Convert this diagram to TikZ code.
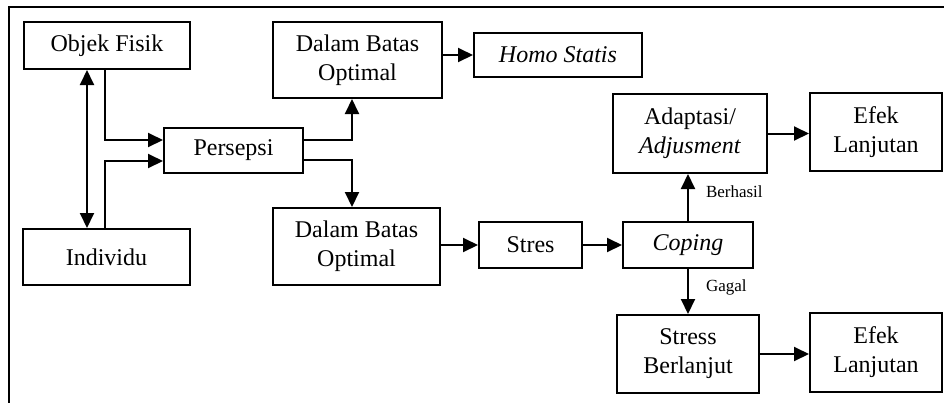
\documentclass[tikz,border=0pt]{standalone}
\usepackage{fontspec}
\setmainfont{Liberation Serif}
\usetikzlibrary{arrows.meta,calc,positioning}

\tikzset{
  box/.style={draw=black,line width=1pt,fill=white,align=center,inner sep=0pt,
    font=\fontsize{12}{14.5}\selectfont},
  arr/.style={line width=1pt,-{Triangle[length=7.5pt,width=7pt]}},
  arrboth/.style={line width=1pt,{Triangle[length=7.5pt,width=7pt]}-{Triangle[length=7.5pt,width=7pt]}},
  lbl/.style={font=\fontsize{8.5}{10}\selectfont,inner sep=0pt}
}

\begin{document}
\begin{tikzpicture}[x=0.5pt,y=-0.5pt]
\useasboundingbox (0,0) rectangle (944,403);
\draw[line width=1pt] (944,7) -| (9,403);
% left column
\node[box,minimum width=83pt,minimum height=23.5pt] (objek) at (107,45.5) {Objek Fisik};
\node[box,minimum width=83.5pt,minimum height=28pt] (indiv) at (106.5,257) {Individu};
\node[box,minimum width=69.5pt,minimum height=22.5pt] (persepsi) at (233.5,150.5) {Persepsi};
% middle
\node[box,minimum width=84.5pt,minimum height=38pt] (batasA) at (357.5,60) {Dalam Batas\\Optimal};
\node[box,minimum width=84pt,minimum height=22pt] (homo) at (558,55) {\textit{Homo Statis}};
\node[box,minimum width=83.5pt,minimum height=38.5pt] (batasB) at (356.5,246.5) {Dalam Batas\\Optimal};
\node[box,minimum width=51.5pt,minimum height=23pt] (stres) at (530.5,245) {Stres};
% right
\node[box,minimum width=65pt,minimum height=23pt] (coping) at (688,245) {\textit{Coping}};
\node[box,minimum width=77pt,minimum height=39.5pt] (adapt) at (690,133.5) {Adaptasi/\\\textit{Adjusment}};
\node[box,minimum width=66pt,minimum height=39pt] (efekA) at (876,132) {Efek\\Lanjutan};
\node[box,minimum width=71pt,minimum height=39pt] (lanjut) at (688,354) {Stress\\Berlanjut};
\node[box,minimum width=66pt,minimum height=39.5pt] (efekB) at (876,352.5) {Efek\\Lanjutan};

% connectors
\draw[arrboth] ($(objek.south)+(-20,0)$) coordinate (up) -- (up |- indiv.north);
\draw[arr] ($(objek.south)+(-2,0)$) |- ($(persepsi.west)+(0,-10.5)$);
\draw[arr] ($(indiv.north)+(-1.5,0)$) |- ($(persepsi.west)+(0,10.5)$);
\draw[arr] ($(persepsi.east)+(0,-10.5)$) -| ($(batasA.south)+(-5.5,0)$);
\draw[arr] ($(persepsi.east)+(0,9)$) -| ($(batasB.north)+(-4.5,0)$);
\draw[arr] (batasA.east |- homo.west) -- (homo.west);
\draw[arr] (batasB.east |- stres.west) -- (stres.west);
\draw[arr] (stres) -- (coping);
\draw[arr] (coping.north) -- (coping.north |- adapt.south)
  node[lbl,pos=0.49,anchor=base west,xshift=8.5pt] {Berhasil};
\draw[arr] (coping.south) -- (coping.south |- lanjut.north)
  node[lbl,pos=0.5,anchor=base west,xshift=8.5pt] {Gagal};
\draw[arr] (adapt.east) -- (adapt.east -| efekA.west);
\draw[arr] (lanjut.east) -- (lanjut.east -| efekB.west);
\end{tikzpicture}
\end{document}
